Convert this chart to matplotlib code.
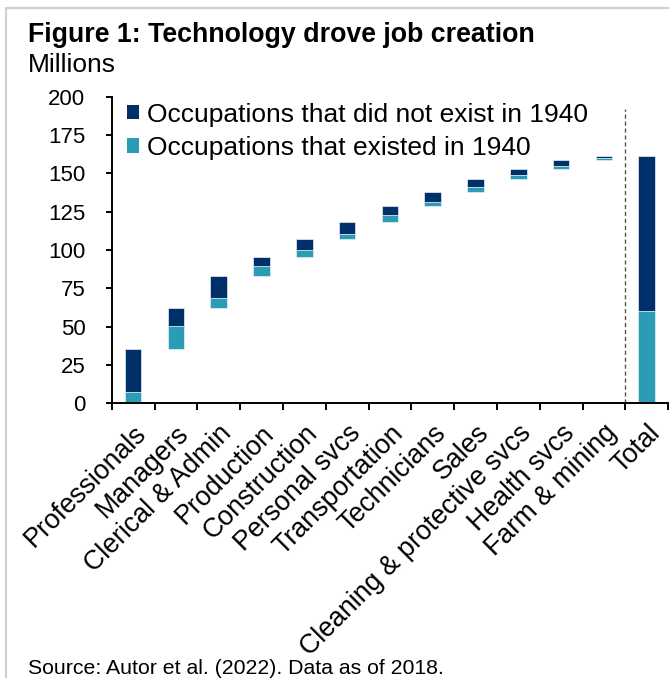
import numpy as np
import matplotlib
matplotlib.use("Agg")
import matplotlib.pyplot as plt
from matplotlib.patches import Rectangle, Patch

plt.rcParams['font.family'] = ['Liberation Sans', 'DejaVu Sans']

categories = ['Professionals', 'Managers', 'Clerical & Admin', 'Production',
              'Construction', 'Personal svcs', 'Transportation', 'Technicians',
              'Sales', 'Cleaning & protective svcs', 'Health svcs', 'Farm & mining']
existed_1940 = [7.6, 14.9, 6.9, 7.0, 4.2, 3.4, 4.9, 2.5, 3.0, 2.6, 1.9, 1.3]
new_since_1940 = [27.6, 11.8, 13.9, 5.8, 7.4, 7.5, 5.9, 6.8, 5.2, 4.2, 4.0, 1.3]
total_label = 'Total'

navy = '#003069'
teal = '#2b9cb5'

existed = np.array(existed_1940)
new = np.array(new_since_1940)
step = existed + new
base = np.concatenate([[0], np.cumsum(step)[:-1]])

fig = plt.figure(figsize=(6.69, 6.78), dpi=100)
ax = fig.add_axes([0.167, 0.4052, 0.8317, 0.4522])

x = np.arange(len(categories))
w = 0.39
ax.bar(x, existed, w, bottom=base, color=teal, edgecolor='#e8f0f6', linewidth=0.5)
ax.bar(x, new, w, bottom=base + existed, color=navy, edgecolor='#e8f0f6', linewidth=0.5)

xt = len(categories)
ax.bar(xt, existed.sum(), w, color=teal, edgecolor='#e8f0f6', linewidth=0.5)
ax.bar(xt, new.sum(), w, bottom=existed.sum(), color=navy, edgecolor='#e8f0f6', linewidth=0.5)

ax.plot([xt - 0.5, xt - 0.5], [0, 192], ls=(0, (3, 2)), color='#555555', lw=1.0)

ax.set_xlim(-0.5, xt + 0.5)
ax.set_ylim(0, 200)
ax.set_yticks(np.arange(0, 201, 25))
ax.tick_params(axis='y', labelsize=16, length=4, width=1.4, pad=15, direction='out')

ax.set_xticks(np.arange(-0.5, xt + 1, 1))
ax.set_xticklabels([])
ax.tick_params(axis='x', which='major', length=5, width=1.4, direction='out')
ax.set_xticks(np.arange(xt + 1), minor=True)
ax.set_xticklabels(categories + [total_label], minor=True, rotation=45,
                   ha='right', rotation_mode='anchor', fontsize=19.3)
ax.tick_params(axis='x', which='minor', length=0, pad=12)

for s in ['top', 'right']:
    ax.spines[s].set_visible(False)
for s in ['left', 'bottom']:
    ax.spines[s].set_linewidth(1.4)

handles = [Patch(facecolor=navy, edgecolor='none', label='Occupations that did not exist in 1940'),
           Patch(facecolor=teal, edgecolor='none', label='Occupations that existed in 1940')]
ax.legend(handles=handles, loc='upper left', bbox_to_anchor=(0.008, 1.015),
          frameon=False, fontsize=19, handlelength=0.45, handleheight=0.45,
          handletextpad=0.3, labelspacing=0.35, borderaxespad=0.0)

fig.text(28 / 669, 1 - 35 / 678, 'Figure 1: Technology drove job creation',
         fontsize=19.3, fontweight='bold', va='center', ha='left')
fig.text(28 / 669, 1 - 65 / 678, 'Millions', fontsize=19, va='center', ha='left')
fig.text(28 / 669, 1 - 674 / 678, 'Source: Autor et al. (2022). Data as of 2018.',
         fontsize=15.3, va='baseline', ha='left')

fig.add_artist(Rectangle((6.5 / 669, -0.1), 1.2, 1.1 - 8 / 678,
                         transform=fig.transFigure, fill=False,
                         edgecolor='#d0d0d0', linewidth=1.5))

fig.savefig('out.png', dpi=100)
